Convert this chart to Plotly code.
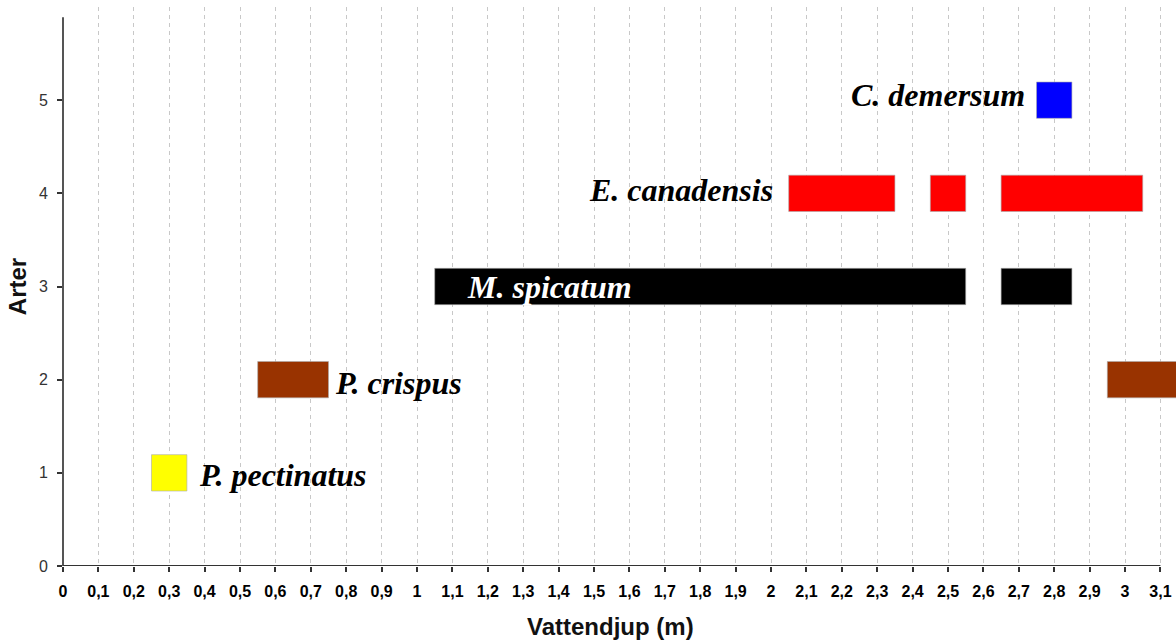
import plotly.graph_objects as go

# Data: species ranges (start, end) in metres, at row index
species = ["P. pectinatus", "P. crispus", "M. spicatum", "E. canadensis", "C. demersum"]
rows = [1, 2, 3, 4, 5]
colors = ["#FFFF00", "#993300", "#000000", "#FF0000", "#0000FF"]
seg_species = [0, 1, 1, 2, 2, 3, 3, 3, 4]
seg_start = [0.25, 0.55, 2.95, 1.05, 2.65, 2.05, 2.45, 2.65, 2.75]
seg_end = [0.35, 0.75, 3.25, 2.55, 2.85, 2.35, 2.55, 3.05, 2.85]

x_tickvals = [round(i * 0.1, 1) for i in range(32)]
x_ticktext = ["0", "0,1", "0,2", "0,3", "0,4", "0,5", "0,6", "0,7", "0,8", "0,9",
              "1", "1,1", "1,2", "1,3", "1,4", "1,5", "1,6", "1,7", "1,8", "1,9",
              "2", "2,1", "2,2", "2,3", "2,4", "2,5", "2,6", "2,7", "2,8", "2,9",
              "3", "3,1"]
y_tickvals = [0, 1, 2, 3, 4, 5]

# label placement per species
label_x = [0.378, 0.762, 1.375, 2.01, 2.722]
label_dy = [-0.022, -0.035, 0.0, 0.035, 0.056]
label_anchor = ["left", "left", "center", "right", "right"]
label_color = ["black", "black", "white", "black", "black"]

fig = go.Figure()
for i, sp in enumerate(species):
    idx = [k for k, s in enumerate(seg_species) if s == i]
    fig.add_trace(go.Bar(
        orientation="h",
        base=[seg_start[k] for k in idx],
        x=[seg_end[k] - seg_start[k] for k in idx],
        y=[rows[i]] * len(idx),
        width=0.39,
        marker=dict(color=colors[i], line=dict(color="rgba(170,170,170,0.6)", width=1)),
        name=sp,
        showlegend=False,
        hoverinfo="skip",
    ))
    fig.add_annotation(
        x=label_x[i], y=rows[i] + label_dy[i], text=sp, showarrow=False,
        xanchor=label_anchor[i], yanchor="middle",
        font=dict(family="Liberation Serif, Times New Roman, serif", size=32,
                  color=label_color[i], weight="bold", style="italic"),
    )

# x axis title (centred slightly left of the visible plot area, as in the original)
fig.add_annotation(
    xref="paper", yref="paper", x=0.492, y=0, yshift=-60,
    xanchor="center", yanchor="middle", showarrow=False,
    text="Vattendjup (m)",
    font=dict(family="Liberation Sans, Arial", size=24, color="#111111", weight="bold"),
)

# axis lines
fig.add_shape(type="line", xref="paper", yref="y", x0=0, x1=0, y0=0, y1=5.89,
              line=dict(color="#555555", width=2))
fig.add_shape(type="line", xref="x", yref="y", x0=0, x1=3.1, y0=0, y1=0,
              line=dict(color="#333333", width=2))

fig.update_layout(
    width=1176, height=642,
    margin=dict(l=63, r=0, t=7, b=76),
    plot_bgcolor="white", paper_bgcolor="white",
    barmode="overlay",
    xaxis=dict(
        range=[0, 3.144], tickvals=x_tickvals, ticktext=x_ticktext,
        showgrid=True, gridcolor="#C8C8C8", griddash="4px,4px", gridwidth=1,
        ticks="outside", ticklen=5, tickcolor="#333333", tickwidth=1.5,
        showline=False, zeroline=False, ticklabelstandoff=6,
        tickfont=dict(family="Liberation Sans, Arial", size=16,
                      color="black", weight="bold"),
    ),
    yaxis=dict(
        range=[0, 6.0], tickvals=y_tickvals,
        showgrid=False, zeroline=False, showline=False,
        ticks="outside", ticklen=5, tickcolor="#333333", tickwidth=1.5,
        ticklabelstandoff=6,
        tickfont=dict(family="Liberation Sans, Arial", size=16, color="#333333"),
        title=dict(text="Arter", standoff=5,
                   font=dict(family="Liberation Sans, Arial", size=24, color="#111111", weight="bold")),
    ),
)

fig.write_html(
    "out.html",
    config={"displayModeBar": False},
    post_script="document.body.style.margin='0';document.body.style.overflow='hidden';",
)
